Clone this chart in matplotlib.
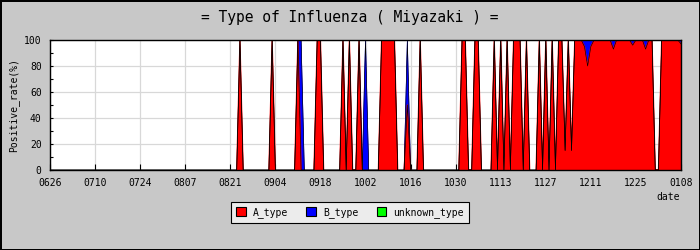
import matplotlib
matplotlib.use('Agg')
from matplotlib import pyplot as plt
from matplotlib.patches import Patch
from matplotlib.ticker import MultipleLocator
import pandas as pd
import numpy as np

TITLE = '= Type of Influenza ( Miyazaki ) ='
YLABEL = 'Positive_rate(%)'
XLABEL = 'date'
FONT = 'DejaVu Sans Mono'

dates = pd.date_range('2023-06-26', '2024-01-08', freq='D')

# daily positive rate (%), one row = two weeks
a_type = [
    0, 0, 0, 0, 0, 0, 0, 0, 0, 0, 0, 0, 0, 0,
    0, 0, 0, 0, 0, 0, 0, 0, 0, 0, 0, 0, 0, 0,
    0, 0, 0, 0, 0, 0, 0, 0, 0, 0, 0, 0, 0, 0,
    0, 0, 0, 0, 0, 0, 0, 0, 0, 0, 0, 0, 0, 0,
    0, 0, 0, 100, 0, 0, 0, 0, 0, 0, 0, 0, 0, 100,
    0, 0, 0, 0, 0, 0, 0, 100, 0, 0, 0, 0, 0, 100,
    100, 0, 0, 0, 0, 0, 0, 100, 0, 100, 0, 0, 100, 0,
    0, 0, 0, 0, 0, 100, 100, 100, 100, 100, 0, 0, 0, 50,
    0, 0, 0, 100, 0, 0, 0, 0, 0, 0, 0, 0, 0, 0,
    0, 0, 100, 100, 0, 0, 100, 100, 0, 0, 0, 0, 100, 0,
    100, 0, 100, 0, 100, 100, 100, 0, 100, 0, 0, 0, 100, 0,
    100, 0, 100, 0, 100, 100, 15, 100, 15, 100, 100, 100, 95, 80,
    95, 100, 100, 100, 100, 100, 100, 93, 100, 100, 100, 100, 100, 96,
    100, 100, 100, 93, 100, 100, 0, 0, 100, 100, 100, 100, 100, 100,
    97,
]
b_type = [
    0, 0, 0, 0, 0, 0, 0, 0, 0, 0, 0, 0, 0, 0,
    0, 0, 0, 0, 0, 0, 0, 0, 0, 0, 0, 0, 0, 0,
    0, 0, 0, 0, 0, 0, 0, 0, 0, 0, 0, 0, 0, 0,
    0, 0, 0, 0, 0, 0, 0, 0, 0, 0, 0, 0, 0, 0,
    0, 0, 0, 0, 0, 0, 0, 0, 0, 0, 0, 0, 0, 0,
    0, 0, 0, 0, 0, 0, 0, 0, 100, 0, 0, 0, 0, 0,
    0, 0, 0, 0, 0, 0, 0, 0, 0, 0, 0, 0, 0, 0,
    100, 0, 0, 0, 0, 0, 0, 0, 0, 0, 0, 0, 0, 50,
    0, 0, 0, 0, 0, 0, 0, 0, 0, 0, 0, 0, 0, 0,
    0, 0, 0, 0, 0, 0, 0, 0, 0, 0, 0, 0, 0, 0,
    0, 0, 0, 0, 0, 0, 0, 0, 0, 0, 0, 0, 0, 0,
    0, 0, 0, 0, 0, 0, 0, 0, 0, 0, 0, 0, 5, 20,
    5, 0, 0, 0, 0, 0, 0, 7, 0, 0, 0, 0, 0, 4,
    0, 0, 0, 7, 0, 0, 0, 0, 0, 0, 0, 0, 0, 0,
    3,
]
unknown_type = [0] * len(dates)

tick_dates = dates[::14]
tick_labels = [d.strftime('%m%d') for d in tick_dates]

COLORS = ['#ff0000', '#0000ff', '#00ff00']
NAMES = ['A_type', 'B_type', 'unknown_type']

a = np.array(a_type, dtype=float)
b = np.array(b_type, dtype=float)
u = np.array(unknown_type, dtype=float)

fig = plt.figure(figsize=(7, 2.5), dpi=100)
fig.patch.set_facecolor('#c8c8c8')
fig.patch.set_edgecolor('black')
fig.patch.set_linewidth(2)

ax = fig.add_axes([50 / 700, 80 / 250, 631 / 700, 130 / 250])
ax.set_facecolor('white')

x = np.arange(len(dates))


def near(v):
    # days with a value plus their neighbours, so each layer is drawn only where it exists
    m = v > 0
    return m | np.r_[m[1:], False] | np.r_[False, m[:-1]]


ax.fill_between(x, a, a + b, where=near(b), facecolor=COLORS[1], edgecolor=COLORS[1],
                linewidth=0.5, zorder=2)
ax.fill_between(x, 0, a, where=near(a), facecolor=COLORS[0], edgecolor=COLORS[0],
                linewidth=0.9, zorder=2)
ax.fill_between(x, a + b, a + b + u, where=near(u), facecolor=COLORS[2],
                edgecolor=COLORS[2], linewidth=0.6, zorder=2)
# black outlines of the stacked areas
ax.plot(x, a, color='black', linewidth=0.45, zorder=3)
ax.plot(x, a + b, color='black', linewidth=0.45, zorder=3)

ax.set_xlim(0, len(dates) - 1)
ax.set_ylim(0, 100)
ax.set_xticks(x[::14])
ax.set_xticklabels(tick_labels, fontfamily=FONT, fontsize=7)
ax.set_yticks([0, 20, 40, 60, 80, 100])
ax.set_yticklabels(['0', '20', '40', '60', '80', '100'], fontfamily=FONT, fontsize=7)
ax.yaxis.set_minor_locator(MultipleLocator(10))
ax.tick_params(axis='x', direction='in', length=4, width=0.8, pad=6)
ax.tick_params(axis='y', which='both', direction='in', length=2.5, width=0.8, pad=6)
ax.grid(True, color='#d8d8d8', linewidth=0.9, zorder=0)
ax.set_axisbelow(True)
for sp in ax.spines.values():
    sp.set_linewidth(1.0)
    sp.set_zorder(5)

ax.set_ylabel(YLABEL, fontfamily=FONT, fontsize=7)
ax.yaxis.set_label_coords(-31 / 631, 0.5)

fig.text(0.5, 1 - 17 / 250, TITLE, ha='center', va='center',
         fontfamily=FONT, fontsize=10.5)
fig.text(680 / 700, 1 - 197 / 250, XLABEL, ha='right', va='center',
         fontfamily=FONT, fontsize=7)

handles = [Patch(facecolor=c, edgecolor='black', linewidth=0.8) for c in COLORS]
leg = fig.legend(handles, NAMES, loc='center', bbox_to_anchor=(0.5, 1 - 212.5 / 250),
                 ncol=3, frameon=True, fancybox=False, shadow=False,
                 prop={'family': FONT, 'size': 7}, handlelength=1.0, handleheight=1.0,
                 handletextpad=0.7, columnspacing=1.9, borderpad=0.5,
                 borderaxespad=0)
leg.get_frame().set_facecolor('#ececec')
leg.get_frame().set_edgecolor('black')
leg.get_frame().set_linewidth(0.8)
leg.get_frame().set_alpha(1)

plt.savefig('out.png', dpi=100)
